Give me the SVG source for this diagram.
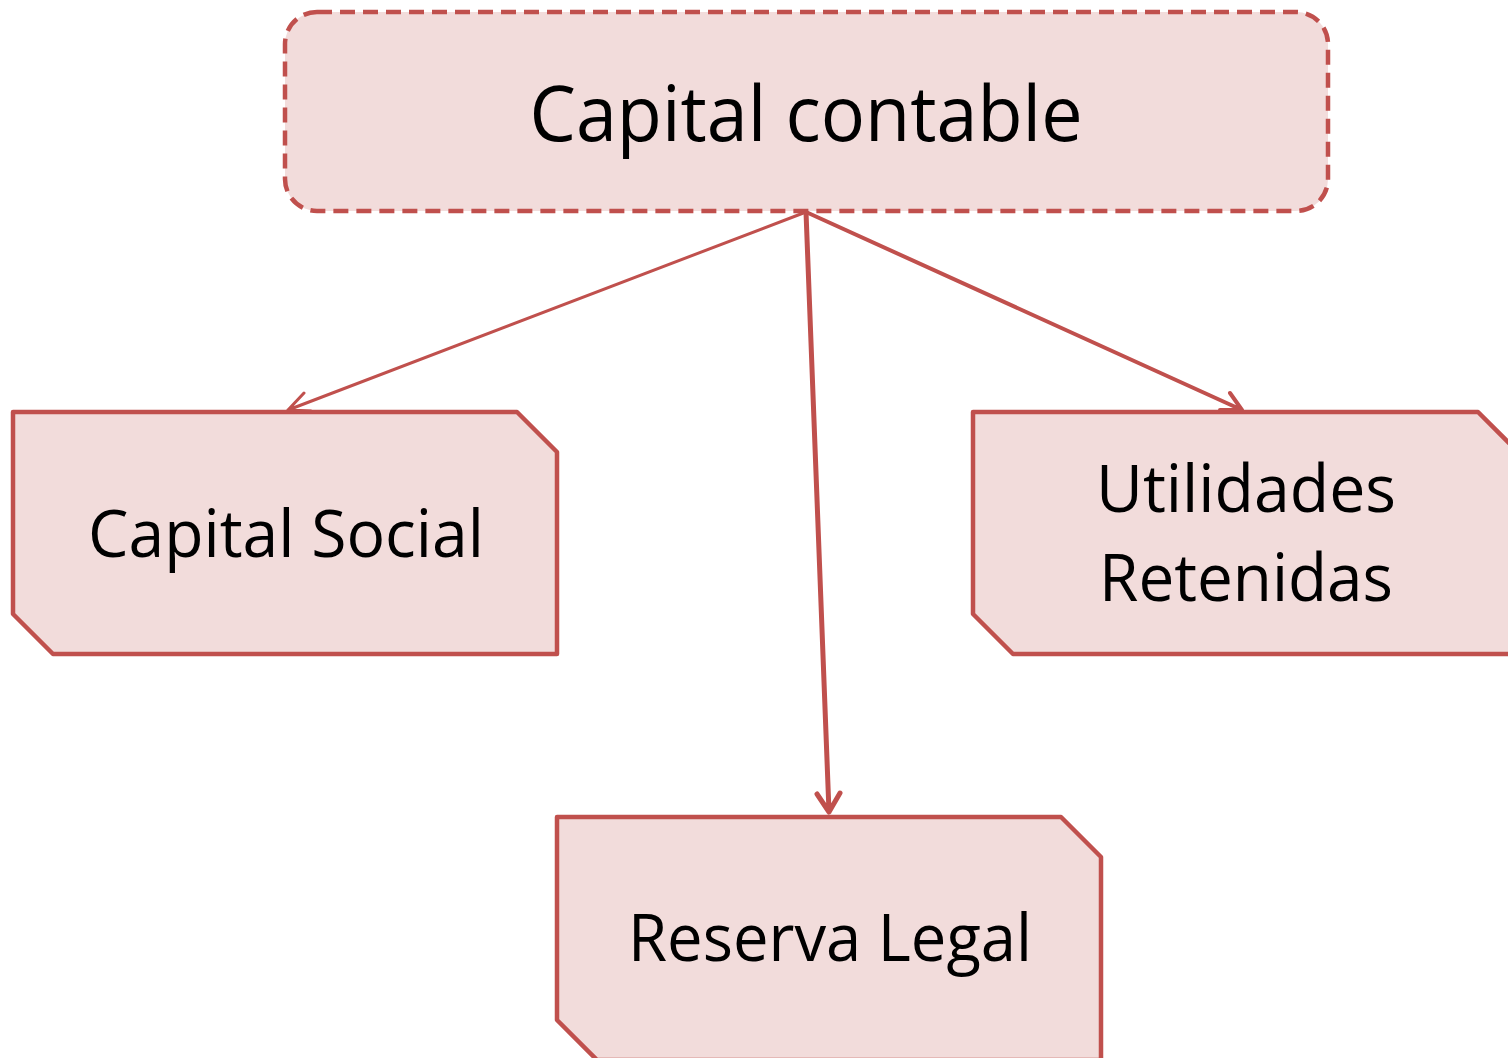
<svg xmlns="http://www.w3.org/2000/svg" width="1508" height="1058" viewBox="0 0 1508 1058">
<defs>
<style>
.node{fill:#f2dcdb;stroke:#c0504d;stroke-width:4.5;stroke-linejoin:round}
.top{fill:#f2dcdb;stroke:#c0504d;stroke-width:4.5;stroke-dasharray:15 8}
.lbl{font-family:"Open Sans","Liberation Sans",Arial,sans-serif;fill:#000;text-anchor:middle}
.conn{stroke:#c0504d;fill:none;stroke-linecap:round;stroke-linejoin:round}
</style>
</defs>
<rect width="1508" height="1058" fill="#fff"/>
<g id="capital-contable">
<rect class="top" x="285" y="12" width="1043" height="199" rx="32" ry="32"/>
<text class="lbl" x="806" y="141" font-size="77" textLength="553" lengthAdjust="spacingAndGlyphs">Capital contable</text>
</g>
<g id="capital-social">
<polygon class="node" points="13,412 517,412 557,452 557,654 53,654 13,614"/>
<text class="lbl" x="286" y="557" font-size="65" textLength="396" lengthAdjust="spacingAndGlyphs">Capital Social</text>
</g>
<g id="utilidades-retenidas">
<polygon class="node" points="973,412 1478,412 1518,452 1518,654 1013,654 973,614"/>
<text class="lbl" x="1246" y="512" font-size="65" textLength="300" lengthAdjust="spacingAndGlyphs">Utilidades</text>
<text class="lbl" x="1246" y="601" font-size="65" textLength="294" lengthAdjust="spacingAndGlyphs">Retenidas</text>
</g>
<g id="reserva-legal">
<polygon class="node" points="557,817 1061,817 1101,857 1101,1060 597,1060 557,1020"/>
<text class="lbl" x="830" y="961" font-size="65" textLength="404" lengthAdjust="spacingAndGlyphs">Reserva Legal</text>
</g>
<g id="connectors">
<path class="conn" stroke-width="3" d="M806,212 L288,410 M288,410 L304,393 M288,410 L311,411"/>
<path class="conn" stroke-width="5" d="M806,212 L829,812 M829,812 L817,794 M829,812 L840,793"/>
<path class="conn" stroke-width="4" d="M806,212 L1242,410 M1242,410 L1230,393 M1242,410 L1220,410"/>
</g>
</svg>
